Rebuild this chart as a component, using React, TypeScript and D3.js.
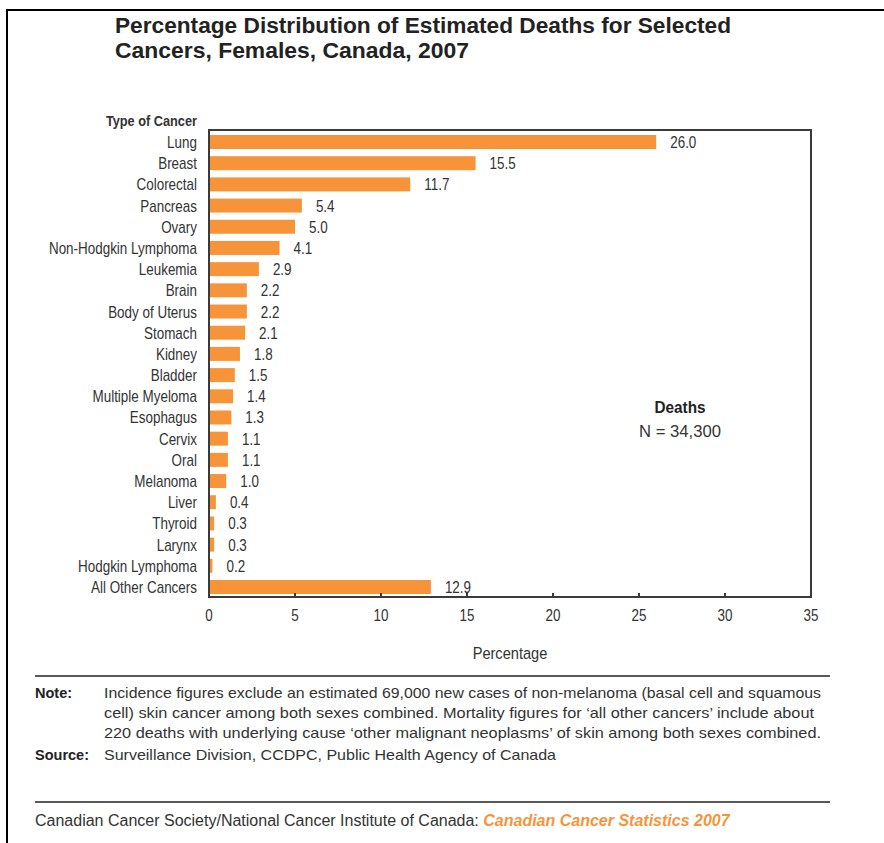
import React from "react";
import * as d3 from "d3";

const categories = [
  "Lung", "Breast", "Colorectal", "Pancreas", "Ovary", "Non-Hodgkin Lymphoma",
  "Leukemia", "Brain", "Body of Uterus", "Stomach", "Kidney", "Bladder",
  "Multiple Myeloma", "Esophagus", "Cervix", "Oral", "Melanoma", "Liver",
  "Thyroid", "Larynx", "Hodgkin Lymphoma", "All Other Cancers",
];
const values = [
  26.0, 15.5, 11.7, 5.4, 5.0, 4.1, 2.9, 2.2, 2.2, 2.1, 1.8, 1.5, 1.4, 1.3,
  1.1, 1.1, 1.0, 0.4, 0.3, 0.3, 0.2, 12.9,
];
const xTicks = [0, 5, 10, 15, 20, 25, 30, 35];
const titleLines = [
  "Percentage Distribution of Estimated Deaths for Selected",
  "Cancers, Females, Canada, 2007",
];
const noteLines = [
  "Incidence figures exclude an estimated 69,000 new cases of non-melanoma (basal cell and squamous",
  "cell) skin cancer among both sexes combined. Mortality figures for \u2018all other cancers\u2019 include about",
  "220 deaths with underlying cause \u2018other malignant neoplasms\u2019 of skin among both sexes combined.",
];
const sourceText = "Surveillance Division, CCDPC, Public Health Agency of Canada";

const W = 884;
const H = 843;
const box = { left: 209, right: 811, top: 130, bottom: 597 };
const ORANGE = "#F7943A";
const TXT = "#333";
const SANS = "'Liberation Sans', Arial, Helvetica, sans-serif";
const SX = 0.84;

function CText(props: {
  x: number;
  y: number;
  anchor?: string;
  size: number;
  bold?: boolean;
  fill?: string;
  sx?: number;
  children: React.ReactNode;
}) {
  const { x, y, anchor = "start", size, bold, fill = TXT, sx = SX, children } = props;
  return (
    <text
      transform={`translate(${x},${y}) scale(${sx},1)`}
      textAnchor={anchor}
      fontFamily={SANS}
      fontSize={size}
      fontWeight={bold ? "bold" : "normal"}
      fill={fill}
    >
      {children}
    </text>
  );
}

export default function App() {
  const x = d3.scaleLinear().domain([0, 35]).range([box.left, box.right]);
  const y = d3
    .scaleBand<string>()
    .domain(categories)
    .range([131.4, 597.6])
    .paddingInner(0.34)
    .paddingOuter(0.17);
  const bw = y.bandwidth();

  return (
    <svg
      width={W}
      height={H}
      style={{ position: "absolute", left: 0, top: 0, background: "#fff" }}
    >
      {/* outer frame */}
      <line x1={7} y1={10} x2={W} y2={10} stroke="#000" strokeWidth={2} />
      <line x1={7} y1={9} x2={7} y2={H} stroke="#000" strokeWidth={2} />

      {/* title */}
      {titleLines.map((t, i) => (
        <text
          key={i}
          x={115}
          y={33 + i * 25}
          fontFamily={SANS}
          fontWeight="bold"
          fontSize={21.5}
          fill="#222"
          textLength={i === 0 ? 616 : 354}
          lengthAdjust="spacingAndGlyphs"
        >
          {t}
        </text>
      ))}

      {/* Type of Cancer header */}
      <CText x={197} y={126} anchor="end" size={15} bold sx={0.85}>
        Type of Cancer
      </CText>

      {/* bars */}
      {categories.map((c, i) => (
        <rect
          key={c}
          x={x(0)}
          y={y(c)}
          width={x(values[i]) - x(0)}
          height={bw}
          fill={ORANGE}
        />
      ))}

      {/* category labels */}
      {categories.map((c) => (
        <CText key={c} x={197} y={(y(c) as number) + bw / 2 + 6} anchor="end" size={16}>
          {c}
        </CText>
      ))}

      {/* value labels */}
      {categories.map((c, i) => (
        <CText key={c} x={x(values[i]) + 14} y={(y(c) as number) + bw / 2 + 6} size={16}>
          {values[i].toFixed(1)}
        </CText>
      ))}

      {/* plot box */}
      <rect
        x={box.left}
        y={box.top}
        width={box.right - box.left}
        height={box.bottom - box.top}
        fill="none"
        stroke="#3a3a3a"
        strokeWidth={2}
      />

      {/* ticks */}
      {xTicks.map((t) => (
        <g key={t}>
          <line
            x1={x(t)}
            x2={x(t)}
            y1={box.bottom}
            y2={box.bottom - 4}
            stroke="#3a3a3a"
            strokeWidth={2}
          />
          <CText x={x(t)} y={621} anchor="middle" size={16}>
            {t}
          </CText>
        </g>
      ))}

      <CText x={(box.left + box.right) / 2} y={659} anchor="middle" size={17} sx={0.86}>
        Percentage
      </CText>

      {/* Deaths annotation */}
      <CText x={680} y={413} anchor="middle" size={17} bold fill="#222" sx={0.9}>
        Deaths
      </CText>
      <CText x={680} y={437} anchor="middle" size={17} sx={0.98}>
        N = 34,300
      </CText>

      {/* note section */}
      <line x1={35} x2={830} y1={676} y2={676} stroke="#222" strokeWidth={1.5} />
      <text x={35} y={698} fontFamily={SANS} fontWeight="bold" fontSize={14.5} fill="#222">
        Note:
      </text>
      {noteLines.map((t, i) => (
        <text
          key={i}
          x={104}
          y={698 + i * 20}
          fontFamily={SANS}
          fontSize={14.5}
          fill={TXT}
          textLength={[717, 710, 717][i]}
          lengthAdjust="spacingAndGlyphs"
        >
          {t}
        </text>
      ))}
      <text x={35} y={760} fontFamily={SANS} fontWeight="bold" fontSize={14.5} fill="#222">
        Source:
      </text>
      <text
        x={104}
        y={760}
        fontFamily={SANS}
        fontSize={14.5}
        fill={TXT}
        textLength={452}
        lengthAdjust="spacingAndGlyphs"
      >
        {sourceText}
      </text>

      <line x1={35} x2={830} y1={802} y2={802} stroke="#222" strokeWidth={1.5} />
      <text x={35} y={826} fontFamily={SANS} fontSize={16} fill={TXT}>
        <tspan>Canadian Cancer Society/National Cancer Institute of Canada: </tspan>
        <tspan fill={ORANGE} fontWeight="bold" fontStyle="italic">
          Canadian Cancer Statistics 2007
        </tspan>
      </text>
    </svg>
  );
}
